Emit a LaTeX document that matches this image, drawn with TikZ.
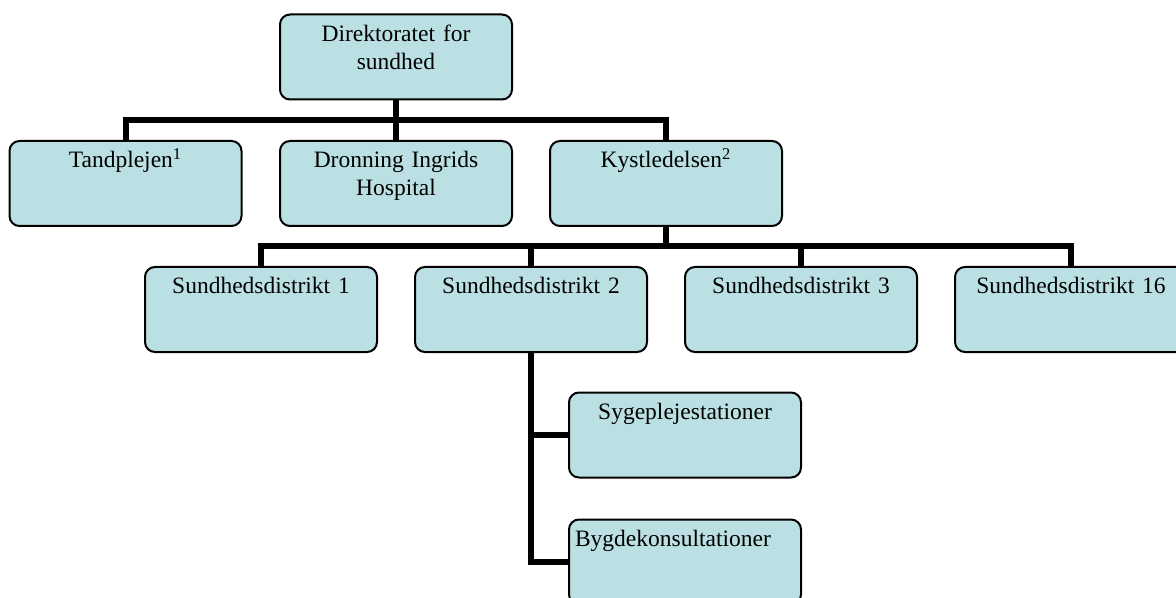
\documentclass[tikz,border=0pt]{standalone}
\usepackage{fontspec}
\setmainfont{Liberation Serif}
\usetikzlibrary{backgrounds}
\definecolor{unitfill}{HTML}{BBE0E3}
\tikzset{
  unit/.style={draw=black, line width=1pt, rounded corners=5pt, fill=unitfill,
    minimum width=116pt, text width=110pt, inner xsep=3pt, inner ysep=0pt,
    align=center, text height=13.5pt, text depth=29pt,
    font=\fontsize{11.75pt}{14pt}\selectfont},
  link/.style={draw=black, line width=3pt, line join=miter}
}
\begin{document}
\begin{tikzpicture}[x=0.5pt, y=-0.5pt]
\useasboundingbox (0,0) rectangle (1176,598);
% units
\node[unit] (DIR) at (396,57) {Direktoratet for\\sundhed};
\node[unit] (TAND) at (125.5,183.5) {Tandplejen\textsuperscript{1}};
\node[unit] (DIH) at (396,183.5) {Dronning Ingrids\\Hospital};
\node[unit] (KYST) at (666,183.5) {Kystledelsen\textsuperscript{2}};
\node[unit] (SD1) at (261,309.5) {Sundhedsdistrikt 1};
\node[unit] (SD2) at (531,309.5) {Sundhedsdistrikt 2};
\node[unit] (SD3) at (801,309.5) {Sundhedsdistrikt 3};
\node[unit] (SD16) at (1071,309.5) {Sundhedsdistrikt 16};
\node[unit] (SYG) at (685,435) {Sygeplejestationer};
\node[unit, align=left] (BYG) at (685,562) {Bygdekonsultationer};
% connectors
\path (DIR.south) -- coordinate (J1) (DIH.north);
\path (KYST.south) -- coordinate (J2) (KYST.south |- SD1.north);
\begin{scope}[on background layer]
\draw[link] (DIR) -- (DIH);
\draw[link] (TAND.north) |- (J1) -| (KYST.north);
\draw[link] (KYST.south) -- (J2);
\draw[link] (SD1.north) |- (J2) -| (SD16.north);
\draw[link] (SD2.north) -- (SD2.north |- J2);
\draw[link] (SD3.north) -- (SD3.north |- J2);
\draw[link] (SD2.south) |- (BYG.west);
\draw[link] (SD2.south |- SYG.west) -- (SYG.west);
\end{scope}
\end{tikzpicture}
\end{document}
